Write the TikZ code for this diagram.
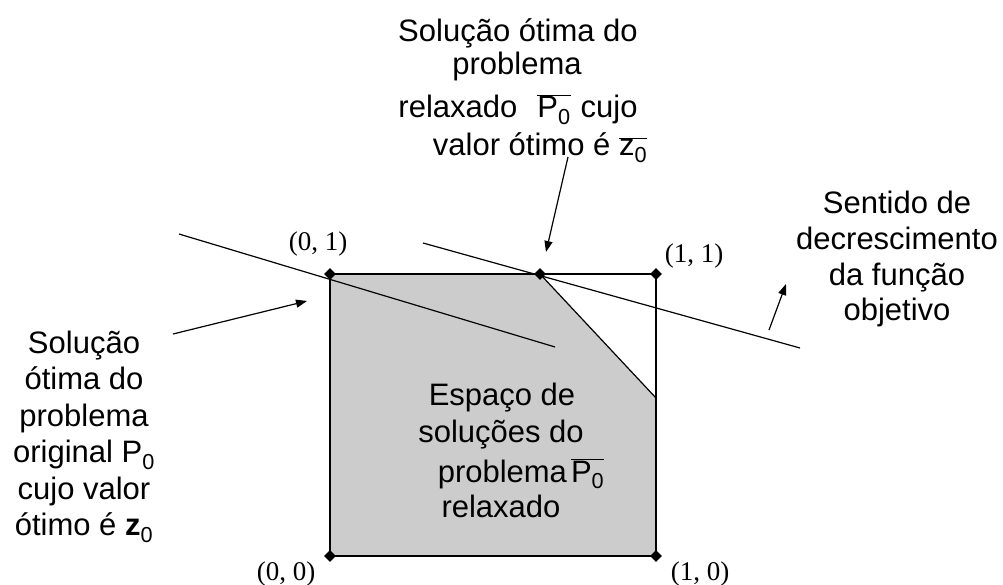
\documentclass[tikz,border=0pt]{standalone}
\usepackage{fontspec}
\setmainfont{Liberation Sans}
\newfontfamily\lblserif{Liberation Serif}
\usetikzlibrary{arrows.meta,shapes.geometric}
\definecolor{fillgray}{RGB}{204,204,204}
\newcommand{\olP}{$\overline{\mbox{P\textsubscript{0}}}$}
\newcommand{\olz}{$\overline{\mbox{z\textsubscript{0}}}$}
\begin{document}
\begin{tikzpicture}[x=1pt,y=-1pt,
  txt/.style={font=\fontsize{31}{37}\selectfont, anchor=base, inner sep=0pt},
  lbl/.style={font=\lblserif\fontsize{27}{32}\selectfont, anchor=base, inner sep=0pt},
  dot/.style={diamond, fill=black, inner sep=0pt, minimum size=12pt},
  ln/.style={line width=1.2pt},
  arr/.style={line width=1.2pt, -{Triangle[length=11pt,width=8pt]}}
]
\useasboundingbox (0,0) rectangle (1003,585);
% corners
\coordinate (p01) at (330,274);
\coordinate (p11) at (656,274);
\coordinate (p00) at (330,556);
\coordinate (p10) at (656,556);
\coordinate (pv) at (540,274);
\coordinate (pe) at (656,398);
% feasible region
\fill[fillgray] (p01) -- (pv) -- (pe) -- (p10) -- (p00) -- cycle;
\draw[line width=1.6pt] (p00) rectangle (p11);
\draw[ln] (pv) -- (pe);
% objective lines
\coordinate (a1) at (179,234);
\coordinate (a2) at (555,347);
\coordinate (b1) at (423,243);
\coordinate (b2) at (800,348);
\draw[ln] (a1) -- (a2);
\draw[ln] (b1) -- (b2);
% arrows
\coordinate (la) at (173,334);
\coordinate (lt) at (307,301);
\draw[arr] (la) -- (lt);
\coordinate (ta) at (568,157);
\coordinate (tt) at (546,252);
\draw[arr] (ta) -- (tt);
\coordinate (ra) at (769,330);
\coordinate (rt) at (786,284);
\draw[arr] (ra) -- (rt);
% dots
\node[dot] (d01) at (p01) {};
\node[dot] (d11) at (p11) {};
\node[dot] (d00) at (p00) {};
\node[dot] (d10) at (p10) {};
\node[dot] (dv) at (pv) {};
% corner labels
\node[lbl] (l01) at (318,251) {(0, 1)};
\node[lbl] (l11) at (694,262) {(1, 1)};
\node[lbl] (l00) at (286,580) {(0, 0)};
\node[lbl] (l10) at (700,580) {(1, 0)};
% top text
\node[txt] (t1) at (518,42) {Solução ótima do};
\node[txt] (t2) at (517,75) {problema};
\node[txt] (t3) at (518,118) {relaxado\hspace{20pt}\olP\hspace{10pt}cujo};
\node[txt] (t4) at (540,156) {valor ótimo é \olz};
% left text
\node[txt] (s1) at (84,353) {Solução};
\node[txt] (s2) at (84,389.5) {ótima do};
\node[txt] (s3) at (84,426) {problema};
\node[txt] (s4) at (84,462.5) {original P\textsubscript{0}};
\node[txt] (s5) at (84,499) {cujo valor};
\node[txt] (s6) at (84,535.5) {ótimo é \textbf{z}\textsubscript{0}};
% middle text
\node[txt] (m1) at (502,405) {Espaço de};
\node[txt] (m2) at (501,442) {soluções do};
\node[txt] (m3) at (521,482) {problema\hspace{4pt}\olP};
\node[txt] (m4) at (501,517) {relaxado};
% right text
\node[txt] (r1) at (897,214) {Sentido de};
\node[txt] (r2) at (897,250) {decrescimento};
\node[txt] (r3) at (897,285) {da função};
\node[txt] (r4) at (897,320) {objetivo};
\end{tikzpicture}
\end{document}
